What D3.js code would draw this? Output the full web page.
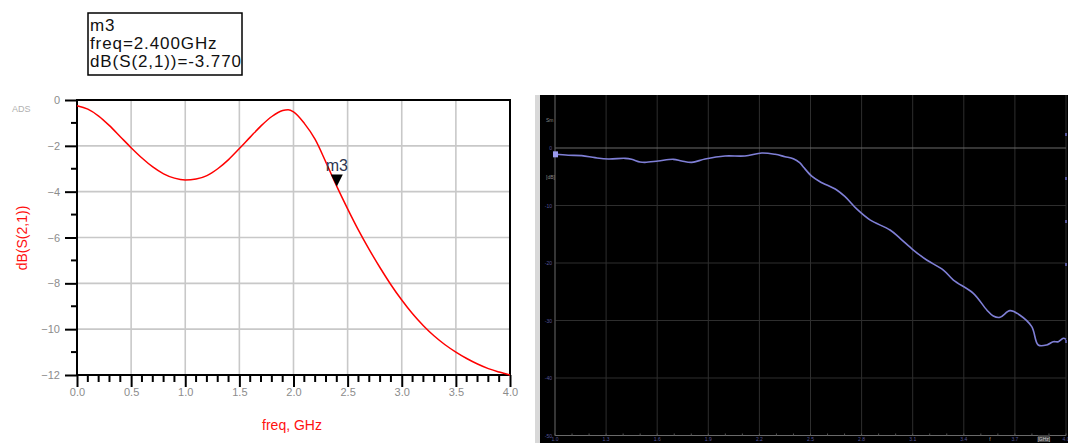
<!DOCTYPE html>
<html>
<head>
<meta charset="utf-8">
<style>
body { margin: 0; background: #fff; }
svg { display: block; font-family: Arial, "Liberation Sans", sans-serif; }
.grid line { stroke: #c8c8c8; stroke-width: 1.6; }
.frame { fill: none; stroke: #000; stroke-width: 2; }
.tick-lbl { fill: #8c8c8c; font-size: 11px; }
.dgrid line { stroke: #2e2e2e; stroke-width: 1; }
.dlbl { fill: #55559a; font-size: 5px; }
</style>
</head>
<body>
<svg width="1068" height="443"></svg>
<script src="https://d3js.org/d3.v7.min.js"></script>
<script>
// simulated S21 (ADS), freq in GHz
var simFreq = [0.0, 0.1, 0.2, 0.3, 0.4, 0.5, 0.6, 0.7, 0.8, 0.9, 1.0, 1.1, 1.2, 1.3, 1.4, 1.5, 1.6, 1.7, 1.8, 1.9, 1.95, 2.0,
               2.1, 2.2, 2.3, 2.4, 2.5, 2.6, 2.7, 2.8, 2.9, 3.0, 3.1, 3.2, 3.3, 3.4, 3.5, 3.6, 3.7, 3.8, 3.9, 4.0];
var simS21 = [-0.25, -0.4, -0.7, -1.12, -1.6, -2.08, -2.53, -2.92, -3.22, -3.41, -3.49, -3.45, -3.3, -3.0, -2.6, -2.12, -1.62, -1.13, -0.72, -0.46, -0.43, -0.52,
              -1.02, -1.72, -2.72, -3.77, -4.75, -5.68, -6.53, -7.32, -8.06, -8.73, -9.33, -9.85, -10.3, -10.68, -11.0, -11.28, -11.52, -11.72, -11.87, -12.0];

// marker m3
var markerName = "m3";
var markerFreq = 2.4;
var markerVal = -3.770;

var simXTicks = [0, 0.5, 1.0, 1.5, 2.0, 2.5, 3.0, 3.5, 4.0];
var simYTicks = [0, -2, -4, -6, -8, -10, -12];

// measured S21 (VNA screen), freq in GHz, dB
var measFreq = [1.0, 1.078, 1.157, 1.235, 1.313, 1.411, 1.45, 1.499, 1.528, 1.606, 1.695, 1.744, 1.803, 1.881, 1.998, 2.115, 2.214, 2.292, 2.35, 2.399,
                2.438, 2.458, 2.507, 2.556, 2.654, 2.703, 2.771, 2.849, 2.967, 3.026, 3.104, 3.182, 3.28, 3.339, 3.456, 3.535, 3.573, 3.613, 3.671, 3.73,
                3.799, 3.837, 3.887, 3.925, 3.955, 3.984, 4.0];
var measS21 = [-1.1, -1.27, -1.33, -1.68, -1.91, -1.8, -1.97, -2.43, -2.5, -2.26, -1.97, -2.26, -2.5, -1.91, -1.39, -1.39, -0.87, -1.1, -1.51, -1.86,
               -2.6, -3.3, -4.9, -5.86, -7.3, -8.47, -10.6, -12.5, -14.26, -15.71, -17.74, -19.48, -21.22, -22.96, -25.27, -28.17, -29.22, -29.44, -28.29, -29.09,
               -31.07, -34.26, -34.26, -33.69, -33.69, -33.1, -33.27];

var measXTicks = ["1.0", "1.3", "1.6", "1.9", "2.2", "2.5", "2.8", "3.1", "3.4", "3.7", "4.0"];
var measYTicks = [0, -10, -20, -30, -40, -50];

var svg = d3.select("svg");

// ---------- left: ADS plot ----------
var x = d3.scaleLinear().domain([0, 4]).range([77, 510]);
var y = d3.scaleLinear().domain([-12, 0]).range([375, 100]);

var grid = svg.append("g").attr("class", "grid");
grid.selectAll(".gx").data(simXTicks.slice(1, -1)).enter().append("line")
  .attr("x1", d => x(d)).attr("x2", d => x(d))
  .attr("y1", y(0)).attr("y2", y(-12));
grid.selectAll(".gy").data(simYTicks.slice(1, -1)).enter().append("line")
  .attr("x1", x(0)).attr("x2", x(4))
  .attr("y1", d => y(d)).attr("y2", d => y(d));

svg.append("rect").attr("class", "frame")
  .attr("x", x(0)).attr("y", y(0))
  .attr("width", x(4) - x(0)).attr("height", y(-12) - y(0));

// x axis ticks (major + minor)
var xAxis = d3.axisBottom(x).tickValues(simXTicks).tickSize(12).tickFormat(d3.format(".1f"));
var gx = svg.append("g").attr("transform", "translate(0," + y(-12) + ")").call(xAxis);
gx.select(".domain").remove();
gx.selectAll(".tick line").attr("stroke", "#000").attr("stroke-width", 2);
gx.selectAll(".tick text").attr("class", "tick-lbl").attr("fill", null).attr("font-family", null).attr("font-size", null).attr("dy", "0.5em");
var xMinor = d3.range(0, 4.001, 0.1).filter(d => Math.abs(d * 2 - Math.round(d * 2)) > 1e-6);
svg.append("g").selectAll("line").data(xMinor).enter().append("line")
  .attr("x1", d => x(d)).attr("x2", d => x(d))
  .attr("y1", y(-12)).attr("y2", y(-12) + 7)
  .attr("stroke", "#000").attr("stroke-width", 2);

// y axis ticks
var yAxis = d3.axisLeft(y).tickValues(simYTicks).tickSize(12).tickPadding(5).tickFormat(d3.format("d"));
var gy = svg.append("g").attr("transform", "translate(" + x(0) + ",0)").call(yAxis);
gy.select(".domain").remove();
gy.selectAll(".tick line").attr("stroke", "#000").attr("stroke-width", 2);
gy.selectAll(".tick text").attr("class", "tick-lbl").attr("fill", null).attr("font-family", null).attr("font-size", null);
svg.append("g").selectAll("line").data([-1, -3, -5, -7, -9, -11]).enter().append("line")
  .attr("x1", x(0) - 6).attr("x2", x(0))
  .attr("y1", d => y(d)).attr("y2", d => y(d))
  .attr("stroke", "#000").attr("stroke-width", 2);

svg.append("text").attr("x", 12).attr("y", 112).attr("fill", "#b0b0b0").attr("font-size", 9).text("ADS");

svg.append("text")
  .attr("transform", "translate(27,238) rotate(-90)")
  .attr("text-anchor", "middle").attr("fill", "#ff1010").attr("font-size", 14)
  .text("dB(S(2,1))");
svg.append("text")
  .attr("x", 292).attr("y", 430)
  .attr("text-anchor", "middle").attr("fill", "#ff1010").attr("font-size", 14)
  .text("freq, GHz");

var simLine = d3.line().x((d, i) => x(simFreq[i])).y(d => y(d)).curve(d3.curveMonotoneX);
svg.append("path").datum(simS21)
  .attr("d", simLine)
  .attr("fill", "none").attr("stroke", "#ff0000").attr("stroke-width", 1.5);

// marker
var mx = x(markerFreq), my = y(markerVal);
svg.append("path")
  .attr("d", d3.line()([[mx - 6, my - 12], [mx + 6, my - 12], [mx, my]]) + "Z")
  .attr("fill", "#000");
svg.append("text").attr("x", mx).attr("y", my - 15)
  .attr("text-anchor", "middle").attr("font-size", 16).attr("fill", "#2c3550")
  .text(markerName);

// marker readout box
svg.append("rect").attr("x", 88).attr("y", 13).attr("width", 154).attr("height", 62)
  .attr("fill", "#fff").attr("stroke", "#000").attr("stroke-width", 1.5);
var readout = [markerName, "freq=" + markerFreq.toFixed(3) + "GHz", "dB(S(2,1))=" + markerVal.toFixed(3)];
svg.append("g").selectAll("text").data(readout).enter().append("text")
  .attr("x", 90).attr("y", (d, i) => 31 + i * 18)
  .attr("font-size", 17).attr("letter-spacing", 0.9).attr("fill", "#111")
  .text(d => d);

// ---------- right: VNA screen ----------
svg.append("rect").attr("x", 535).attr("y", 95).attr("width", 5).attr("height", 348).attr("fill", "#d8d8d8");
svg.append("rect").attr("x", 540).attr("y", 95).attr("width", 528).attr("height", 348).attr("fill", "#000");

var vx = d3.scaleLinear().domain([1.0, 4.0]).range([555, 1066]);
var vy = d3.scaleLinear().domain([-50, 10]).range([435.5, 90.5]);

var dgrid = svg.append("g").attr("class", "dgrid");
dgrid.selectAll(".v").data(measXTicks).enter().append("line")
  .attr("x1", d => vx(+d)).attr("x2", d => vx(+d))
  .attr("y1", 95).attr("y2", vy(-50));
dgrid.selectAll(".h").data(measYTicks).enter().append("line")
  .attr("x1", vx(1.0)).attr("x2", vx(4.0))
  .attr("y1", d => vy(d)).attr("y2", d => vy(d))
  .style("stroke", d => (d === 0 || d === -50) ? "#6a6a6a" : null);
svg.append("line").attr("x1", vx(1.0)).attr("x2", vx(1.0)).attr("y1", 95).attr("y2", vy(-50))
  .attr("stroke", "#555").attr("stroke-width", 1);

// minor ticks along bottom
svg.append("g").selectAll("line").data(d3.range(1.0, 4.0001, 0.1)).enter().append("line")
  .attr("x1", d => vx(d)).attr("x2", d => vx(d))
  .attr("y1", vy(-50) - 2).attr("y2", vy(-50))
  .attr("stroke", "#555");

svg.append("g").selectAll("text").data(measXTicks).enter().append("text")
  .attr("class", "dlbl").attr("x", d => vx(+d)).attr("y", 441)
  .attr("text-anchor", "middle").text(d => d);
svg.append("g").selectAll("text").data(measYTicks).enter().append("text")
  .attr("class", "dlbl").attr("x", 552).attr("y", d => vy(d) + 2)
  .attr("text-anchor", "end").text(d => d);
svg.append("text").attr("class", "dlbl").attr("x", 546).attr("y", 122).style("fill", "#888").text("Sm");
svg.append("text").attr("class", "dlbl").attr("x", 546).attr("y", 179).style("fill", "#888").text("[dB]");
svg.append("text").attr("class", "dlbl").attr("x", vx(3.55)).attr("y", 441).style("fill", "#aaa").text("f");
svg.append("rect").attr("x", vx(3.87) - 6).attr("y", 435).attr("width", 12).attr("height", 7).attr("fill", "#444");
svg.append("text").attr("class", "dlbl").attr("x", vx(3.87)).attr("y", 441).attr("text-anchor", "middle").style("fill", "#ccc").text("[GHz]");

var measLine = d3.line().x((d, i) => vx(measFreq[i])).y(d => vy(d)).curve(d3.curveCatmullRom);
svg.append("path").datum(measS21)
  .attr("d", measLine)
  .attr("fill", "none").attr("stroke", "#7f7fd6").attr("stroke-width", 1.6);
svg.append("rect").attr("x", vx(1.0) - 2).attr("y", vy(measS21[0]) - 3).attr("width", 5).attr("height", 6)
  .attr("fill", "#9a9aee");

// right edge tick stubs (cut-off scale)
svg.append("g").selectAll("rect").data([133, 177, 220, 263, 340]).enter().append("rect")
  .attr("x", 1065).attr("y", d => d).attr("width", 2).attr("height", 3).attr("fill", "#55559a");
</script>
</body>
</html>
